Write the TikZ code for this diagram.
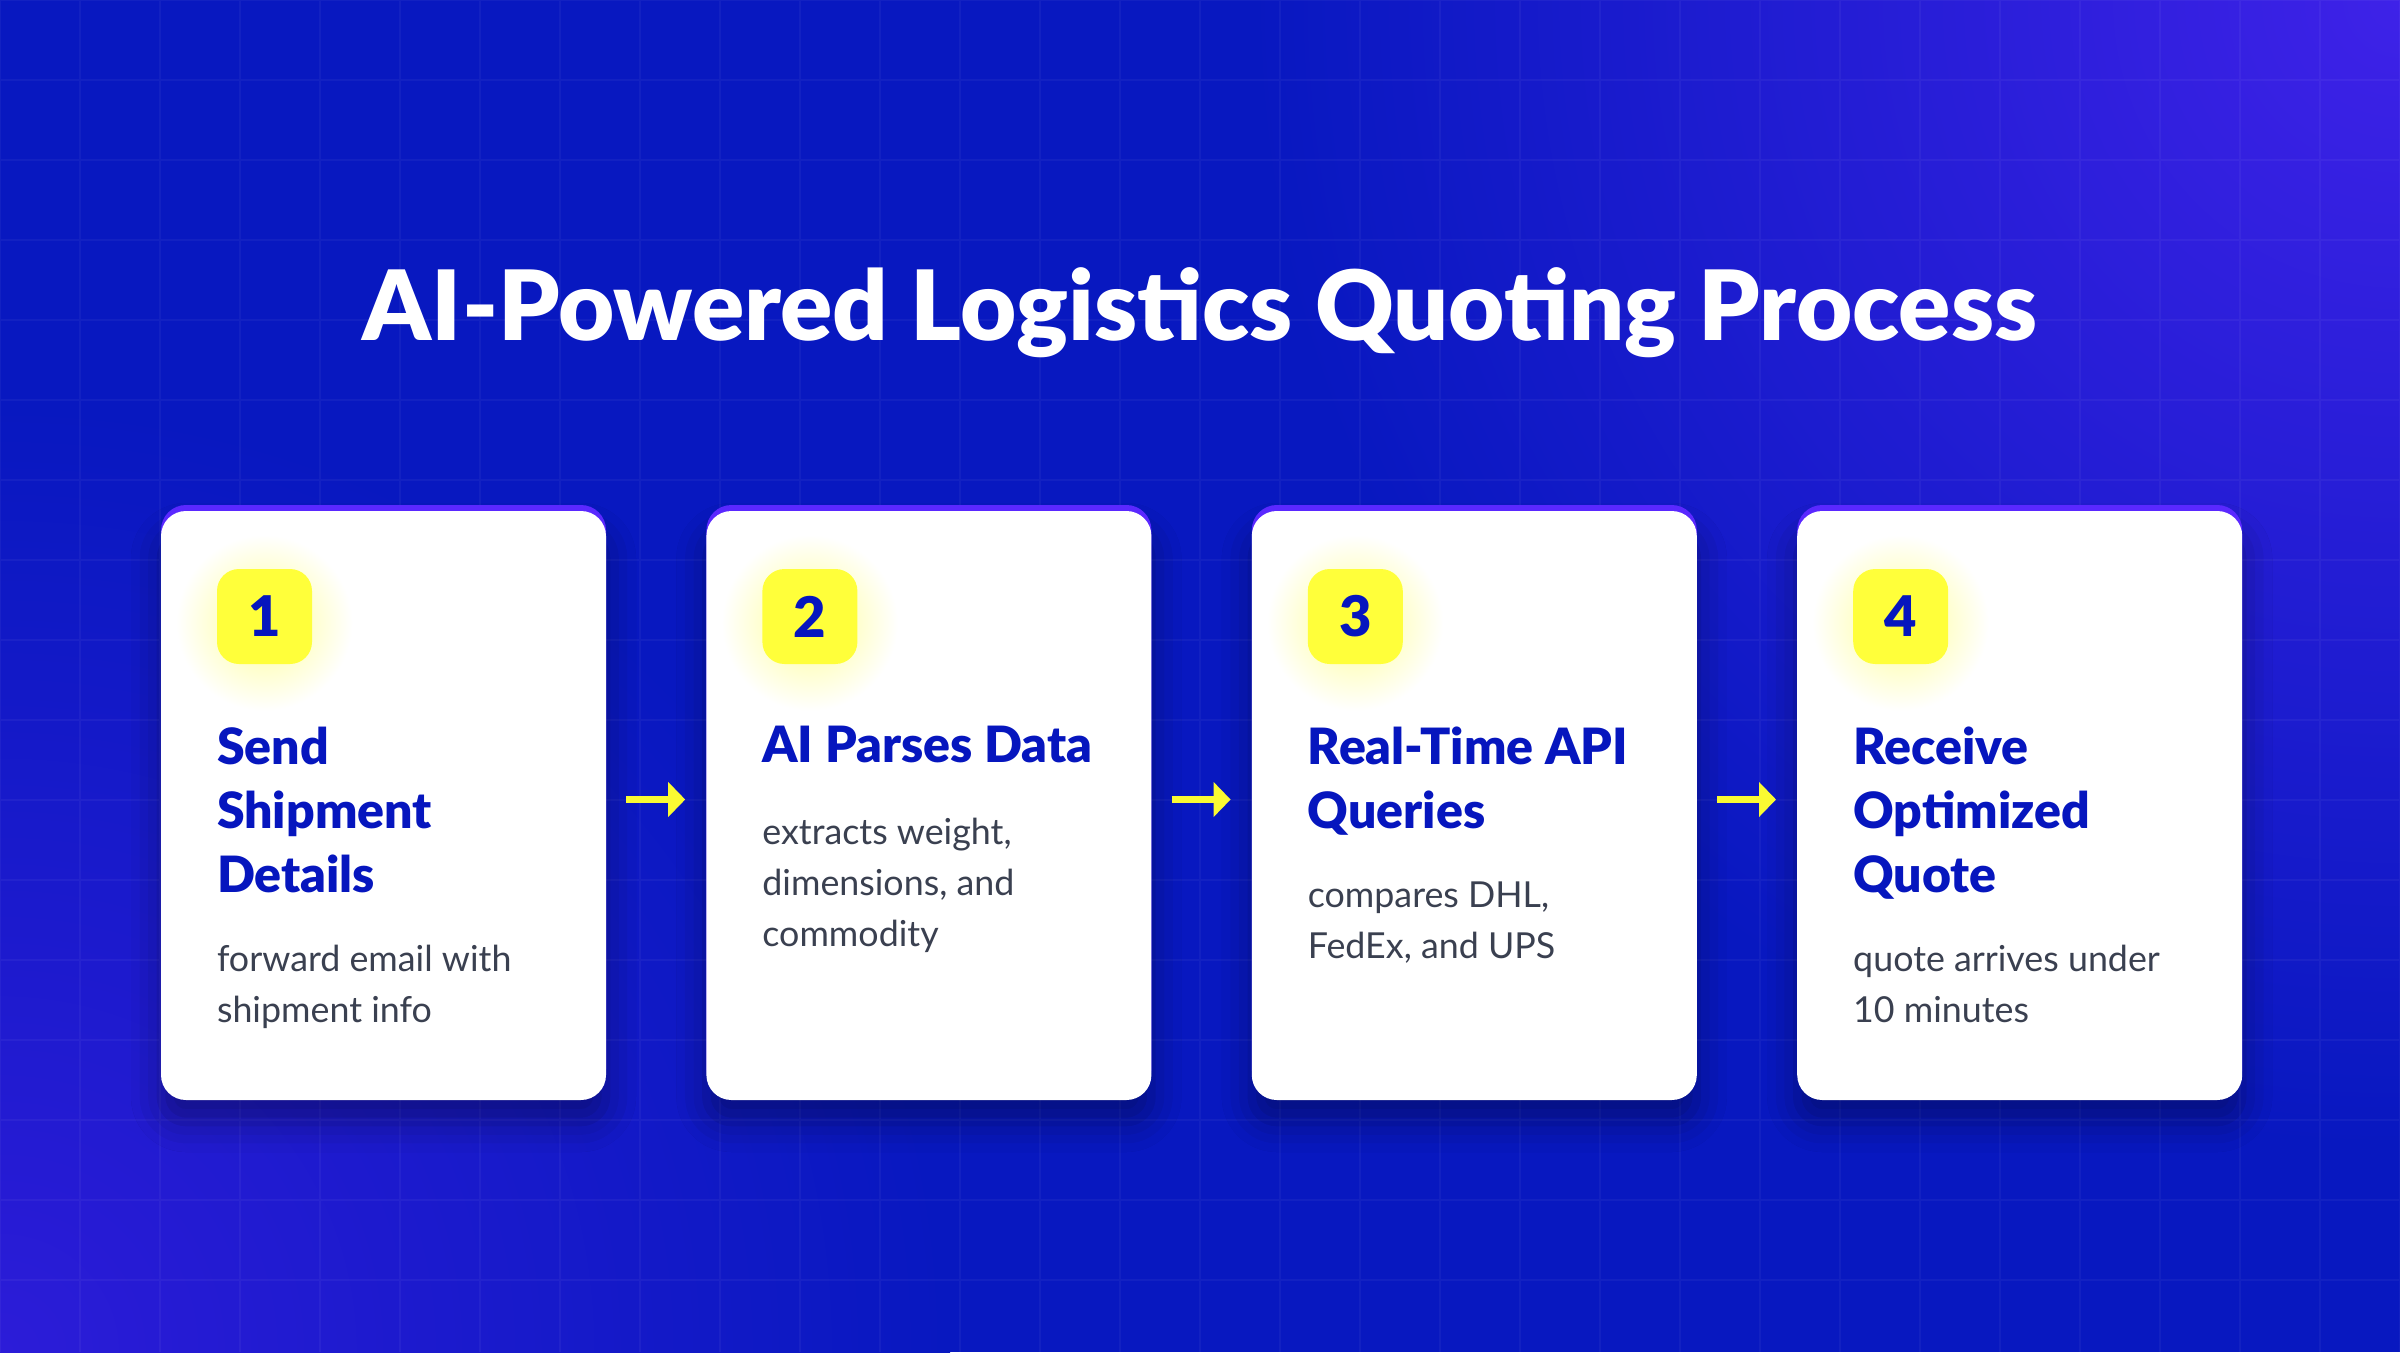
\documentclass[tikz,border=0pt]{standalone}
\usepackage{fontspec}
\setmainfont{Lato}
\newfontfamily\heavyfont{Lato Black}
\usetikzlibrary{positioning, arrows.meta, shadows.blur}

\definecolor{bgblue}{RGB}{8,24,192}
\definecolor{bgpurple}{RGB}{62,34,232}
\definecolor{bgviolet}{RGB}{44,28,216}
\definecolor{cardedge}{RGB}{90,40,255}
\definecolor{headblue}{RGB}{6,22,190}
\definecolor{textgray}{RGB}{58,64,80}
\definecolor{badgeyellow}{RGB}{255,255,58}
\definecolor{glowyellow}{RGB}{255,255,150}
\definecolor{arrowyellow}{RGB}{250,250,50}

\begin{document}
\begin{tikzpicture}[x=1pt, y=-1pt,
        title/.style={anchor=base, inner sep=0pt, text=white, font=\fontsize{97}{100}\heavyfont},
        card/.style={rectangle, fill=white, minimum width=445pt, minimum height=589pt, rounded corners=25pt, inner sep=0pt,
            blur shadow={shadow xshift=0pt, shadow yshift=-22pt, shadow blur radius=30pt, shadow opacity=35},
            preaction={fill=cardedge, transform canvas={yshift=6pt}}},
        badge/.style={rectangle, fill=badgeyellow, minimum width=95pt, minimum height=95pt, rounded corners=22pt, inner sep=0pt,
            text=headblue, font=\fontsize{56}{60}\heavyfont},
        heading/.style={inner sep=0pt, align=left, text=headblue, font=\fontsize{50}{64}\heavyfont,
            execute at end node=\strut},
        desc/.style={inner sep=0pt, align=left, text=textgray, font=\fontsize{35.8}{51}\selectfont},
        gridline/.style={draw=white, draw opacity=0.045, line width=1.5pt, step=80pt},
        flow/.style={draw=arrowyellow, line width=7pt, -{Triangle[length=17pt, width=34pt]},
            shorten <=20pt, shorten >=21pt, transform canvas={yshift=6pt}}]

    % background
    \useasboundingbox (0,0) rectangle (2400,1352);
    \fill[bgblue] (0,0) rectangle (2400,1352);
    \begin{scope}
        \clip (0,0) rectangle (2400,1352);
        \shade[inner color=bgpurple, outer color=bgblue] (2400,0) circle (1150pt);
        \shade[inner color=bgviolet, outer color=bgblue] (0,1352) circle (950pt);
    \end{scope}
    \draw[gridline] (0,1352) grid (2400,0);

    \node[title] (title) at (1200,340) {AI-Powered Logistics Quoting Process};

    % cards
    \node[card] (c1) at (383.5,805.5) {};
    \node[card, right=100pt of c1] (c2) {};
    \node[card, right=100pt of c2] (c3) {};
    \node[card, right=100pt of c3] (c4) {};

    % glow behind the badges
    \foreach \i in {1,...,4} {
        \coordinate[below right=112pt and 103.5pt of c\i.north west] (g\i);
        \shade[inner color=glowyellow, outer color=white] (g\i) circle (88pt);
    }

    \node[badge, below right=58pt and 56pt of c1.north west] (b1) {1};
    \node[badge, below right=58pt and 56pt of c2.north west] (b2) {2};
    \node[badge, below right=58pt and 56pt of c3.north west] (b3) {3};
    \node[badge, below right=58pt and 56pt of c4.north west] (b4) {4};

    \node[heading, below right=63pt and 0pt of b1.south west] (h1) {Send\\Shipment\\Details};
    \node[heading, below right=53pt and 0pt of b2.south west] (h2) {AI Parses Data};
    \node[heading, below right=63pt and 0pt of b3.south west] (h3) {Real-Time API\\Queries};
    \node[heading, below right=63pt and 0pt of b4.south west] (h4) {Receive\\Optimized\\Quote};

    \node[desc, below right=33pt and 0pt of h1.south west] (d1) {forward email with\\shipment info};
    \node[desc, below right=36pt and 0pt of h2.south west] (d2) {extracts weight,\\dimensions, and\\commodity};
    \node[desc, below right=33pt and 0pt of h3.south west] (d3) {compares DHL,\\FedEx, and UPS};
    \node[desc, below right=33pt and 0pt of h4.south west] (d4) {quote arrives under\\10 minutes};

    % arrows
    \draw[flow] (c1.east) -- (c2.west);
    \draw[flow] (c2.east) -- (c3.west);
    \draw[flow] (c3.east) -- (c4.west);
\end{tikzpicture}
\end{document}
